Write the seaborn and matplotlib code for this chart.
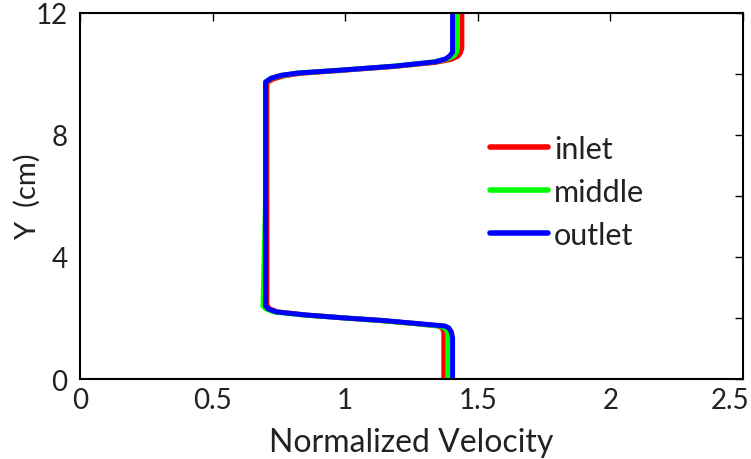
import numpy as np
import pandas as pd
import matplotlib
matplotlib.use("Agg")
import matplotlib.pyplot as plt
import matplotlib.transforms as mtransforms
import seaborn as sns

# Velocity profiles across the channel height at three stations
y_inlet = [0, 1.55, 1.68, 1.74, 1.82, 1.92, 2.0, 2.1, 2.2, 2.3, 2.42, 6.0, 9.72, 9.84,
           9.94, 10.02, 10.12, 10.25, 10.38, 10.48, 10.58, 10.7, 10.85, 12]
x_inlet = [1.372, 1.372, 1.365, 1.35, 1.26, 1.13, 1.0, 0.85, 0.745, 0.715, 0.705, 0.705, 0.705, 0.73,
           0.77, 0.83, 0.99, 1.19, 1.34, 1.40, 1.425, 1.435, 1.44, 1.44]

y_middle = [0, 1.5, 1.65, 1.73, 1.81, 1.91, 2.0, 2.1, 2.2, 2.3, 2.4, 6.0, 9.74, 9.86,
            9.95, 10.03, 10.13, 10.26, 10.39, 10.49, 10.59, 10.72, 10.85, 12]
x_middle = [1.387, 1.387, 1.38, 1.36, 1.27, 1.14, 1.0, 0.84, 0.73, 0.70, 0.69, 0.70, 0.70, 0.72,
            0.76, 0.82, 0.99, 1.19, 1.33, 1.385, 1.41, 1.42, 1.423, 1.423]

y_outlet = [0, 1.35, 1.55, 1.68, 1.74, 1.82, 1.92, 2.0, 2.1, 2.2, 2.3, 2.4, 6.0, 9.74, 9.86,
            9.96, 10.03, 10.13, 10.26, 10.4, 10.5, 10.6, 10.72, 12]
x_outlet = [1.405, 1.405, 1.40, 1.39, 1.375, 1.27, 1.14, 1.0, 0.85, 0.74, 0.71, 0.70, 0.70, 0.70, 0.72,
            0.76, 0.82, 0.99, 1.19, 1.34, 1.38, 1.395, 1.405, 1.405]

stations = ["inlet", "middle", "outlet"]
colors = ["#ff0000", "#00ff00", "#0000ff"]

x_ticks = [0, 0.5, 1, 1.5, 2, 2.5]
x_tick_labels = ["0", "0.5", "1", "1.5", "2", "2.5"]
y_ticks = [0, 4, 8, 12]
y_tick_labels = ["0", "4", "8", "12"]
y_minor_ticks = [2, 6, 10]

frames = []
for name, xs, ys in [("inlet", x_inlet, y_inlet),
                     ("middle", x_middle, y_middle),
                     ("outlet", x_outlet, y_outlet)]:
    frames.append(pd.DataFrame({"velocity": xs, "y": ys, "station": name}))
df = pd.concat(frames, ignore_index=True)

sns.set_style("white")
plt.rcParams["font.family"] = ["Lato", "DejaVu Sans"]

fig = plt.figure(figsize=(7.51, 4.60), dpi=100)
ax = fig.add_axes([0.1065, 0.1739, 0.8828, 0.7957])

sns.lineplot(data=df, x="velocity", y="y", hue="station", hue_order=stations,
             palette=colors, sort=False, estimator=None, units="station",
             linewidth=3.6, ax=ax, legend=True)

ax.set_xlim(0, 2.5)
ax.set_ylim(0, 12)
ax.set_xticks(x_ticks, x_tick_labels)
ax.set_yticks(y_ticks, y_tick_labels)
ax.set_yticks(y_minor_ticks, minor=True)
ax.tick_params(which="both", direction="in", top=True, right=True,
               length=6, width=1.0, color="black", labelsize=20,
               labelcolor="#222222", pad=6)
ax.tick_params(axis="y", pad=9)
for s in ax.spines.values():
    s.set_visible(True)
    s.set_color("black")
    s.set_linewidth(1.5)

# keep the last x tick label inside the figure
last = ax.get_xticklabels()[-1]
last.set_transform(last.get_transform() +
                   mtransforms.ScaledTranslation(-0.13, 0, fig.dpi_scale_trans))

ax.set_xlabel("Normalized Velocity", fontsize=23, color="#222222", labelpad=10)
ax.set_ylabel("Y  (cm)", fontsize=21, color="#222222", labelpad=-4)

leg = ax.legend(loc="upper left", bbox_to_anchor=(0.618, 0.668), frameon=False,
                fontsize=22, handlelength=1.9, handletextpad=0.2, labelspacing=0.5,
                borderpad=0, borderaxespad=0)
for line in leg.get_lines():
    line.set_linewidth(4)
for t in leg.get_texts():
    t.set_color("#222222")

fig.savefig("out.png", dpi=100)
